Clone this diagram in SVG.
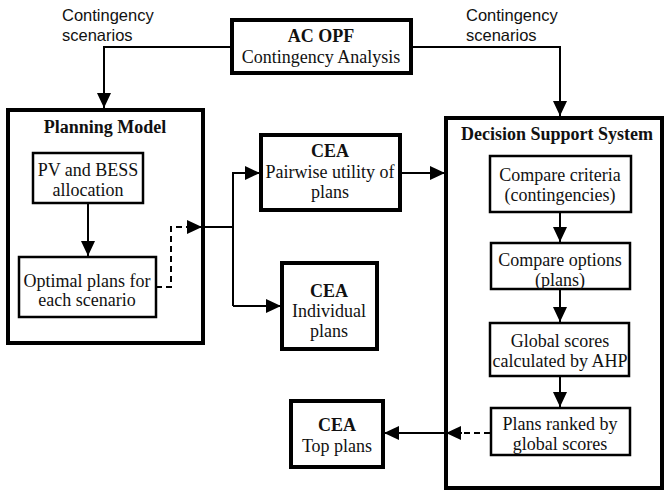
<svg xmlns="http://www.w3.org/2000/svg" width="665" height="495" viewBox="0 0 665 495">
<style>
.bg{fill:#fff}
.thick{fill:#fff;stroke:#000;stroke-width:4}
.thin{fill:#fff;stroke:#000;stroke-width:2.5}
.t{font-family:"Liberation Serif","Times New Roman",serif;font-size:18px;fill:#111;text-anchor:middle}
.b{font-weight:bold;font-size:18px}
.s{font-family:"Liberation Sans",Arial,sans-serif;font-size:16.5px;fill:#111}
.c{fill:none;stroke:#000;stroke-width:2}
.d{fill:none;stroke:#000;stroke-width:2;stroke-dasharray:6 4}
</style>
<defs>
<marker id="ah" markerUnits="userSpaceOnUse" markerWidth="15" markerHeight="14" refX="15" refY="7" orient="auto">
<path d="M0,0 L15,7 L0,14 z" fill="#000"/>
</marker>
</defs>
<rect class="bg" width="665" height="495"/>

<g id="labels">
<text class="s" x="62" y="21">Contingency</text>
<text class="s" x="62" y="41">scenarios</text>
<text class="s" x="466" y="21">Contingency</text>
<text class="s" x="466" y="41">scenarios</text>
</g>

<g id="acopf">
<rect class="thick" x="232" y="20" width="179" height="53"/>
<text class="t b" x="321" y="42">AC OPF</text>
<text class="t" x="321" y="63">Contingency Analysis</text>
</g>

<g id="planning">
<rect class="thick" x="8" y="110" width="195" height="233"/>
<text class="t b" x="105" y="133">Planning Model</text>
</g>

<g id="pvbess">
<rect class="thin" x="33" y="153" width="110" height="50"/>
<text class="t" x="88" y="176">PV and BESS</text>
<text class="t" x="88" y="196">allocation</text>
</g>

<g id="optimal">
<rect class="thin" x="19" y="257" width="137" height="60"/>
<text class="t" x="87" y="287">Optimal plans for</text>
<text class="t" x="87" y="306">each scenario</text>
</g>

<g id="pairwise">
<rect class="thick" x="261" y="135" width="139" height="75"/>
<text class="t b" x="330" y="157">CEA</text>
<text class="t" x="330" y="178">Pairwise utility of</text>
<text class="t" x="330" y="198">plans</text>
</g>

<g id="individual">
<rect class="thick" x="282" y="263" width="95" height="86"/>
<text class="t b" x="329" y="297">CEA</text>
<text class="t" x="329" y="317">Individual</text>
<text class="t" x="329" y="337">plans</text>
</g>

<g id="dss">
<rect class="thick" x="446" y="118" width="216" height="370"/>
<text class="t b" x="557" y="140">Decision Support System</text>
</g>

<g id="criteria">
<rect class="thin" x="490" y="156" width="141" height="56"/>
<text class="t" x="560" y="181">Compare criteria</text>
<text class="t" x="560" y="201">(contingencies)</text>
</g>

<g id="options">
<rect class="thin" x="491" y="243" width="139" height="46"/>
<text class="t" x="560" y="266">Compare options</text>
<text class="t" x="560" y="286">(plans)</text>
</g>

<g id="global">
<rect class="thin" x="490" y="323" width="139" height="53"/>
<text class="t" x="560" y="347">Global scores</text>
<text class="t" x="560" y="367">calculated by AHP</text>
</g>

<g id="ranked">
<rect class="thin" x="491" y="408" width="139" height="47"/>
<text class="t" x="560" y="430">Plans ranked by</text>
<text class="t" x="560" y="450">global scores</text>
</g>

<g id="topplans">
<rect class="thick" x="291" y="401" width="92" height="66"/>
<text class="t b" x="337" y="431">CEA</text>
<text class="t" x="337" y="452">Top plans</text>
</g>

<g id="connectors">
<path class="c" d="M232,47 H104 V108" marker-end="url(#ah)"/>
<path class="c" d="M411,47 H560 V116" marker-end="url(#ah)"/>
<path class="c" d="M88,203 V256" marker-end="url(#ah)"/>
<path class="d" d="M156,287 H171 V227 H186"/>
<path class="c" d="M186,227 H202" marker-end="url(#ah)"/>
<path class="c" d="M202,227 H233"/>
<path class="c" d="M233,306 V173 H260" marker-end="url(#ah)"/>
<path class="c" d="M233,306 H281" marker-end="url(#ah)"/>
<path class="c" d="M400,173 H445" marker-end="url(#ah)"/>
<path class="c" d="M560,212 V242" marker-end="url(#ah)"/>
<path class="c" d="M560,289 V322" marker-end="url(#ah)"/>
<path class="c" d="M560,376 V407" marker-end="url(#ah)"/>
<path class="d" d="M490,433 H462"/>
<path class="c" d="M462,433 H446" marker-end="url(#ah)"/>
<path class="c" d="M446,433 H384" marker-end="url(#ah)"/>
</g>
</svg>
